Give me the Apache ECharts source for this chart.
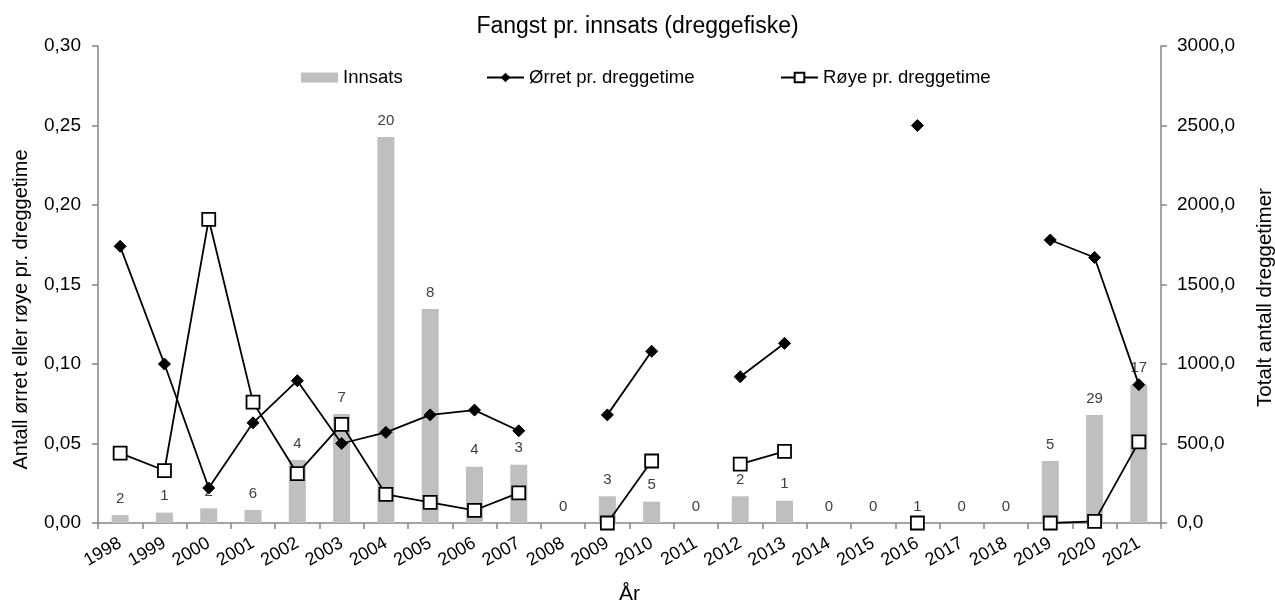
<!DOCTYPE html>
<html><head><meta charset="utf-8">
<script src="https://cdn.jsdelivr.net/npm/echarts@6/dist/echarts.min.js"></script>
<style>html,body{margin:0;padding:0;background:#fff}#c{width:1275px;height:605px}</style>
</head><body><div id="c"></div>
<script>
const years = ['1998','1999','2000','2001','2002','2003','2004','2005','2006','2007','2008','2009','2010','2011','2012','2013','2014','2015','2016','2017','2018','2019','2020','2021'];
const innsats = [50,65,92,82,396,685,2428,1346,354,367,0,168,134,0,168,140,0,0,0,0,0,390,679,870];
const fangstLabels = ['2','1','2','6','4','7','20','8','4','3','0','3','5','0','2','1','0','0','1','0','0','5','29','17'];
const orret = [0.174,0.100,0.022,0.063,0.0895,0.050,0.057,0.068,0.071,0.058,null,0.068,0.108,null,0.092,0.113,null,null,0.250,null,null,0.178,0.167,0.087];
const roye = [0.044,0.033,0.191,0.076,0.031,0.062,0.018,0.013,0.008,0.019,null,0.000,0.039,null,0.037,0.045,null,null,0.000,null,null,0.000,0.001,0.051];

const FONT = '"Liberation Sans", Arial, sans-serif';
const axisGray = '#868686';
const chart = echarts.init(document.getElementById('c'), null, {renderer:'canvas'});
chart.setOption({
  animation:false,
  backgroundColor:'#fff',
  textStyle:{fontFamily:FONT},
  title:{text:'Fangst pr. innsats (dreggefiske)',left:'center',top:10,
    textStyle:{fontFamily:FONT,fontSize:23,fontWeight:'normal',color:'#000'}},
  legend:[
    {data:[{name:'Innsats',icon:'rect'}],left:296,top:63,itemWidth:37,itemHeight:10,
      textStyle:{fontFamily:FONT,fontSize:18.5,color:'#000'}},
    {data:['Ørret pr. dreggetime'],left:481,top:63,itemWidth:37,itemHeight:12,
      textStyle:{fontFamily:FONT,fontSize:18.5,color:'#000'}},
    {data:['Røye pr. dreggetime'],left:775,top:63,itemWidth:37,itemHeight:12,
      textStyle:{fontFamily:FONT,fontSize:18.5,color:'#000'}}
  ],
  grid:{left:98,right:114,top:46,bottom:82,containLabel:false,outerBoundsMode:'none'},
  xAxis:{type:'category',data:years,boundaryGap:true,
    name:'År',nameLocation:'middle',nameGap:61,
    nameTextStyle:{fontFamily:FONT,fontSize:21,color:'#000'},
    axisLine:{lineStyle:{color:axisGray,width:1.5}},
    axisTick:{show:true,length:6,lineStyle:{color:axisGray,width:1.5}},
    axisLabel:{rotate:30,fontFamily:FONT,fontSize:18,color:'#000',margin:19,interval:0}},
  yAxis:[
    {type:'value',min:0,max:0.30,interval:0.05,position:'left',
      name:'Antall ørret eller røye pr. dreggetime',nameLocation:'middle',nameGap:67,nameRotate:90,
      nameTextStyle:{fontFamily:FONT,fontSize:20,color:'#000',padding:[0,50,0,0]},
      axisLine:{show:true,lineStyle:{color:axisGray,width:1.5}},
      axisTick:{show:true,length:6,lineStyle:{color:axisGray,width:1.5}},
      splitLine:{show:false},
      axisLabel:{fontFamily:FONT,fontSize:19,color:'#000',margin:17,
        formatter:v=>v.toFixed(2).replace('.',',')}},
    {type:'value',min:0,max:3000,interval:500,position:'right',
      name:'Totalt antall dreggetimer',nameLocation:'middle',nameGap:94,nameRotate:90,
      nameTextStyle:{fontFamily:FONT,fontSize:20.5,color:'#000',padding:[0,26,0,0]},
      axisLine:{show:true,lineStyle:{color:axisGray,width:1.5}},
      axisTick:{show:true,length:6,lineStyle:{color:axisGray,width:1.5}},
      splitLine:{show:false},
      axisLabel:{fontFamily:FONT,fontSize:19,color:'#000',margin:16,
        formatter:v=>v.toFixed(1).replace('.',',')}}
  ],
  series:[
    {name:'Innsats',type:'bar',yAxisIndex:1,data:innsats,barWidth:17,z:1,
      itemStyle:{color:'#BFBFBF'},
      label:{show:true,position:'top',distance:9,fontFamily:FONT,fontSize:15,color:'#404040',
        formatter:p=>fangstLabels[p.dataIndex]}},
    {name:'Ørret pr. dreggetime',type:'line',yAxisIndex:0,data:orret,connectNulls:false,z:3,
      symbol:'diamond',symbolSize:12,showSymbol:true,showAllSymbol:true,
      lineStyle:{color:'#000',width:1.8},itemStyle:{color:'#000',borderColor:'#000'}},
    {name:'Røye pr. dreggetime',type:'line',yAxisIndex:0,data:roye,connectNulls:false,z:4,
      symbol:'rect',symbolSize:13,showSymbol:true,showAllSymbol:true,
      lineStyle:{color:'#000',width:1.8},itemStyle:{color:'#fff',borderColor:'#000',borderWidth:1.8}}
  ]
});
</script></body></html>
